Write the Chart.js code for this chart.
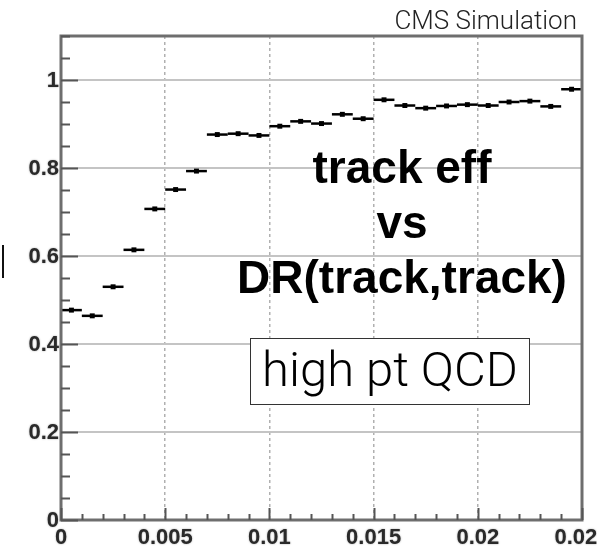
<!DOCTYPE html>
<html>
<head>
<meta charset="utf-8">
<script src="https://cdn.jsdelivr.net/npm/chart.js@4/dist/chart.umd.min.js"></script>
<style>
  body { margin: 0; background: #fff; }
  #wrap { position: relative; width: 597px; height: 549px; overflow: hidden; }
  #wrap canvas { position: absolute; left: 0; top: 0; }
  .cms { position: absolute; right: 20px; top: 5px; font: 300 26px Roboto, "Liberation Sans", sans-serif; color: #222; }
  .title { position: absolute; left: 222px; width: 360px; top: 140px; text-align: center;
           font: bold 46px "Liberation Sans", Arial, sans-serif; line-height: 55px; color: #000; }
  .box { position: absolute; left: 250px; top: 338px; width: 280px; height: 67px; border: 1.5px solid #333;
         background: #fff; box-sizing: border-box; text-align: center;
         font: 300 49px Roboto, "Liberation Sans", sans-serif; line-height: 62px; color: #000; }
  .stub { position: absolute; left: 2px; top: 245px; width: 2px; height: 33px; background: #111; }
</style>
</head>
<body>
<div id="wrap">
  <canvas id="eff" width="597" height="549"></canvas>
  <div class="cms">CMS Simulation</div>
  <div class="title">track eff<br>vs<br>DR(track,track)</div>
  <div class="box">high pt QCD</div>
  <div class="stub"></div>
</div>
<script>
// DR bins (width 0.001) and tracking efficiency per bin
const binCenters = [0.0005, 0.0015, 0.0025, 0.0035, 0.0045, 0.0055, 0.0065, 0.0075, 0.0085, 0.0095,
  0.0105, 0.0115, 0.0125, 0.0135, 0.0145, 0.0155, 0.0165, 0.0175, 0.0185, 0.0195,
  0.0205, 0.0215, 0.0225, 0.0235, 0.0245]
const binWidth = 0.001
const efficiency = [0.477, 0.464, 0.530, 0.614, 0.707, 0.751, 0.793, 0.876, 0.878, 0.874,
  0.895, 0.906, 0.901, 0.922, 0.912, 0.955, 0.942, 0.936, 0.941, 0.944,
  0.942, 0.950, 0.952, 0.940, 0.979]

const xTickLabels = ['0', '0.005', '0.01', '0.015', '0.02', '0.025']
const yTickLabels = ['0', '0.2', '0.4', '0.6', '0.8', '1']

const points = binCenters.map((x, i) => ({ x: x, y: efficiency[i] }))

// ROOT-like frame: inner ticks, bold labels, bin-width bars
const rootFrame = {
  id: 'rootFrame',
  afterDatasetsDraw(chart) {
    const { ctx, chartArea: a, scales: { x, y } } = chart
    ctx.save()

    // horizontal bin-width bars
    ctx.strokeStyle = '#000'
    ctx.lineWidth = 2.5
    points.forEach(p => {
      const py = y.getPixelForValue(p.y)
      ctx.beginPath()
      ctx.moveTo(x.getPixelForValue(p.x - binWidth / 2), py)
      ctx.lineTo(x.getPixelForValue(p.x + binWidth / 2), py)
      ctx.stroke()
    })

    // frame
    ctx.strokeStyle = '#6e6e6e'
    ctx.lineWidth = 3
    ctx.strokeRect(a.left, a.top, a.right - a.left, a.bottom - a.top)

    // ticks
    ctx.strokeStyle = '#555'
    ctx.lineWidth = 2
    for (let v = 0; v <= 1.1001; v += 0.05) {
      const py = Math.round(y.getPixelForValue(v)) + 0.5
      const major = Math.abs(v / 0.2 - Math.round(v / 0.2)) < 1e-6
      ctx.beginPath()
      ctx.moveTo(a.left, py)
      ctx.lineTo(a.left + (major ? 17 : 9), py)
      ctx.stroke()
    }
    for (let v = 0; v <= 0.02501; v += 0.001) {
      const px = Math.round(x.getPixelForValue(v)) + 0.5
      const major = Math.abs(v / 0.005 - Math.round(v / 0.005)) < 1e-6
      ctx.beginPath()
      ctx.moveTo(px, a.bottom)
      ctx.lineTo(px, a.bottom - (major ? 12 : 6))
      ctx.stroke()
    }

    // tick labels
    ctx.fillStyle = '#2a2a2a'
    ctx.font = 'bold 22px "Liberation Sans", Arial, sans-serif'
    ctx.shadowColor = 'rgba(0,0,0,0.35)'
    ctx.shadowBlur = 2
    ctx.textAlign = 'right'
    ctx.textBaseline = 'middle'
    yTickLabels.forEach(t => {
      ctx.fillText(t, a.left - 2, y.getPixelForValue(parseFloat(t)) + 1)
    })
    ctx.textAlign = 'center'
    ctx.textBaseline = 'top'
    xTickLabels.forEach(t => {
      ctx.fillText(t, x.getPixelForValue(parseFloat(t)), a.bottom + 7)
    })
    ctx.restore()
  }
}

const chart = new Chart(document.getElementById('eff'), {
  type: 'scatter',
  data: {
    datasets: [{
      data: points,
      pointStyle: 'rect',
      pointRadius: 3.5,
      backgroundColor: '#000',
      borderColor: '#000',
      borderWidth: 0
    }]
  },
  options: {
    responsive: false,
    animation: false,
    devicePixelRatio: 1,
    layout: { padding: { left: 61, right: 15, top: 36, bottom: 29 } },
    plugins: { legend: { display: false }, tooltip: { enabled: false } },
    scales: {
      x: {
        type: 'linear',
        min: 0,
        max: 0.025,
        ticks: { display: false, stepSize: 0.005 },
        grid: { color: '#b0b0b0', lineWidth: 1.5, drawTicks: false },
        border: { display: false, dash: [3, 3] }
      },
      y: {
        min: 0,
        max: 1.1,
        ticks: { display: false, stepSize: 0.2 },
        grid: { color: '#c4c4c4', lineWidth: 2, drawTicks: false },
        border: { display: false }
      }
    }
  },
  plugins: [rootFrame]
})
</script>
</body>
</html>
